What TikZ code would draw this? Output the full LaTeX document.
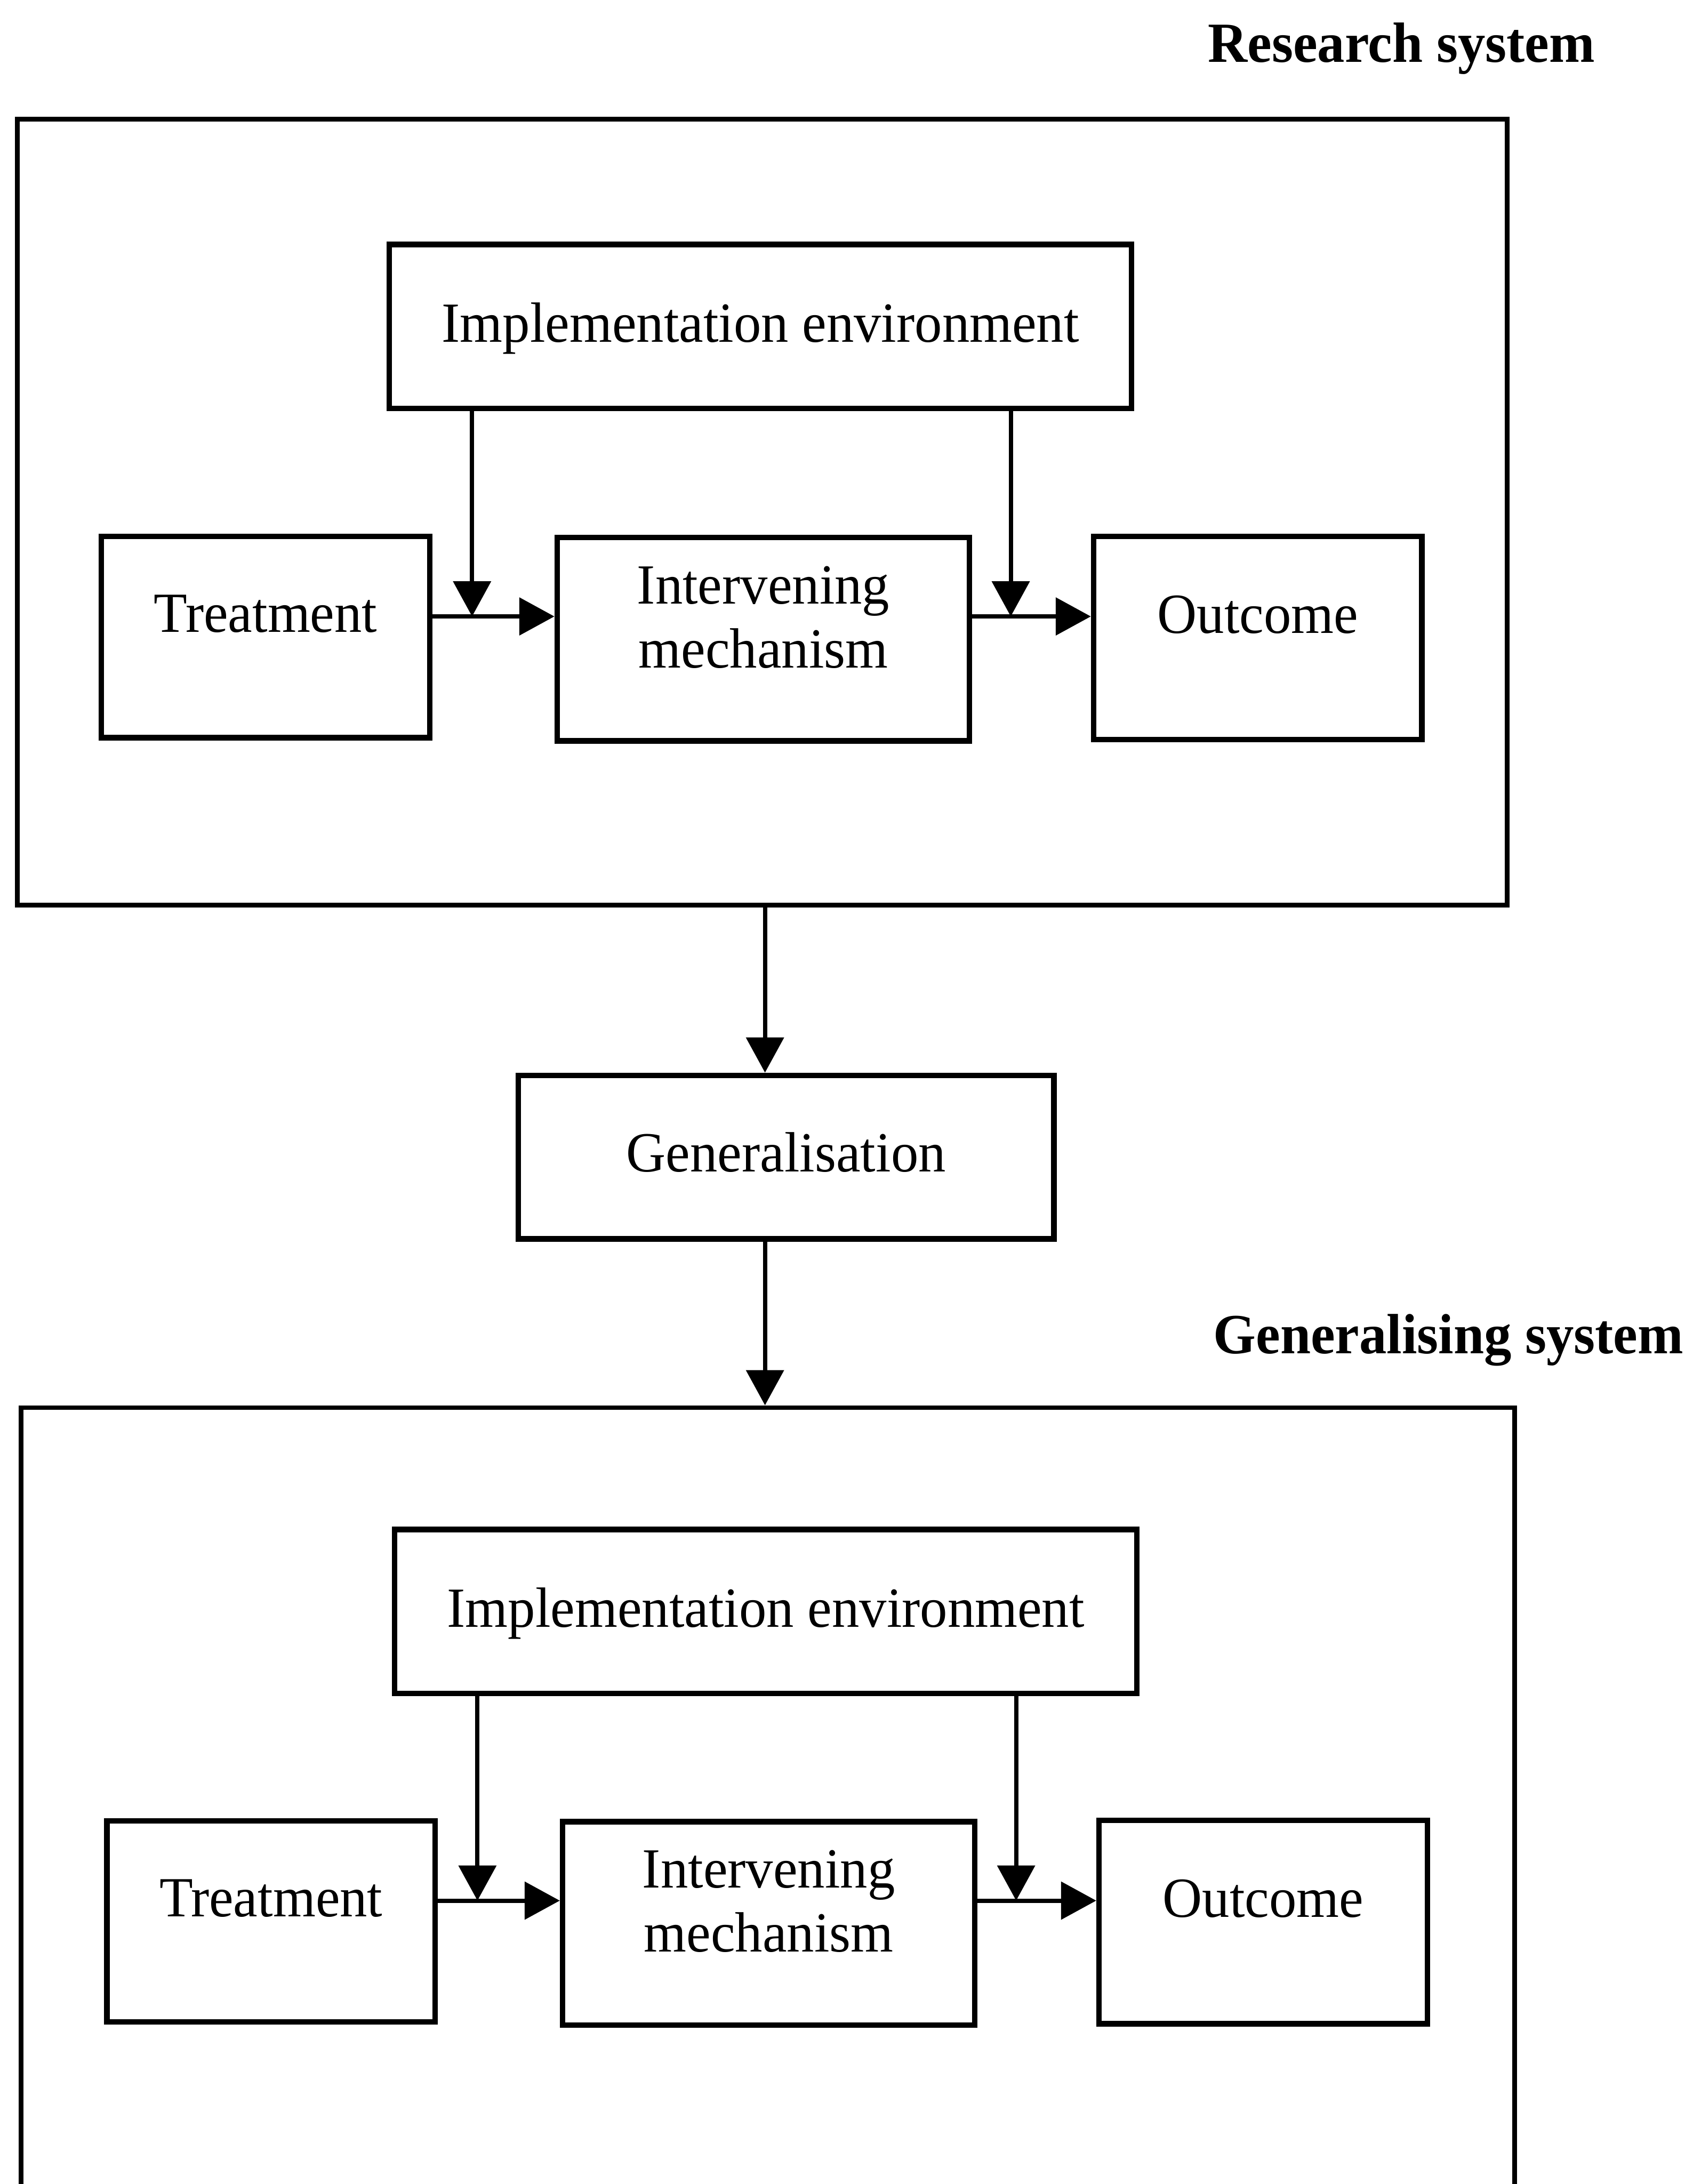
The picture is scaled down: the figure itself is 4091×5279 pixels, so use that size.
\documentclass[tikz,border=0pt]{standalone}
\usepackage{fontspec}
\setmainfont{Liberation Serif}[FakeStretch=0.965]
\usetikzlibrary{arrows.meta}
\begin{document}
\begin{tikzpicture}[x=0.01cm, y=-0.01cm,
  every node/.style={font=\fontsize{39pt}{44pt}\selectfont},
  box/.style={draw, line width=3.8pt, rectangle, inner sep=0pt},
  frame/.style={draw, line width=3.2pt, rectangle, inner sep=0pt},
  heading/.style={anchor=base west, inner sep=0pt, font=\fontsize{39pt}{44pt}\selectfont\bfseries},
  conn/.style={line width=2.9pt, -{Triangle[length=0.85cm,width=0.9cm]}}
]
\useasboundingbox (0,0) rectangle (4091,5279);
\fill[white] (0,0) rectangle (4091,5279);
\clip (0,0) rectangle (4091,5279);

% ---------- research system ----------
\node[heading] (rlabel) at (2919,150) {Research system};
\node[frame, minimum width=35.99cm, minimum height=18.99cm] (rsys) at (1842,1238) {};

\node[box, minimum width=17.93cm, minimum height=3.96cm, text height=1cm, text depth=0.24cm]
  (env1) at (1838,789) {Implementation environment};
\node[box, minimum width=7.93cm, minimum height=4.86cm, text height=0.95cm, text depth=1.19cm]
  (treat1) at (642,1540) {Treatment};
\node[box, minimum width=9.96cm, minimum height=4.91cm, text height=1.1cm, text depth=2.82cm]
  (mech1) at (1845,1545) {\begin{tabular}[t]{@{}c@{}}Intervening\\mechanism\end{tabular}};
\node[box, minimum width=7.93cm, minimum height=4.91cm, text height=0.95cm, text depth=1.19cm]
  (out1) at (3040,1542) {Outcome};

\coordinate (j1a) at (1141,1490);
\coordinate (j1b) at (2443,1490);
\draw[conn] (env1.south -| j1a) -- (j1a);
\draw[conn] (env1.south -| j1b) -- (j1b);
\draw[conn] (treat1.east |- j1a) -- (mech1.west |- j1a);
\draw[conn] (mech1.east |- j1b) -- (out1.west |- j1b);

% ---------- generalisation ----------
\node[box, minimum width=12.94cm, minimum height=3.95cm, text height=1cm, text depth=0.3cm]
  (gen) at (1900,2797) {Generalisation};

% ---------- generalising system ----------
\node[heading] (glabel) at (2932,3272) {Generalising system};
\node[frame, minimum width=36.08cm, minimum height=22cm] (gsys) at (1856,4503) {};

\coordinate (gx) at (1849,0);
\draw[conn] (rsys.south -| gx) -- (gen.north -| gx);
\draw[conn] (gen.south -| gx) -- (gsys.north -| gx);

\node[box, minimum width=17.93cm, minimum height=3.96cm, text height=1cm, text depth=0.24cm]
  (env2) at (1851,3895) {Implementation environment};
\node[box, minimum width=7.93cm, minimum height=4.86cm, text height=0.95cm, text depth=1.19cm]
  (treat2) at (655,4644) {Treatment};
\node[box, minimum width=9.96cm, minimum height=4.91cm, text height=1.1cm, text depth=2.82cm]
  (mech2) at (1858,4649) {\begin{tabular}[t]{@{}c@{}}Intervening\\mechanism\end{tabular}};
\node[box, minimum width=7.93cm, minimum height=4.91cm, text height=0.95cm, text depth=1.19cm]
  (out2) at (3053,4646) {Outcome};

\coordinate (j2a) at (1154,4594);
\coordinate (j2b) at (2456,4594);
\draw[conn] (env2.south -| j2a) -- (j2a);
\draw[conn] (env2.south -| j2b) -- (j2b);
\draw[conn] (treat2.east |- j2a) -- (mech2.west |- j2a);
\draw[conn] (mech2.east |- j2b) -- (out2.west |- j2b);
\end{tikzpicture}
\end{document}
